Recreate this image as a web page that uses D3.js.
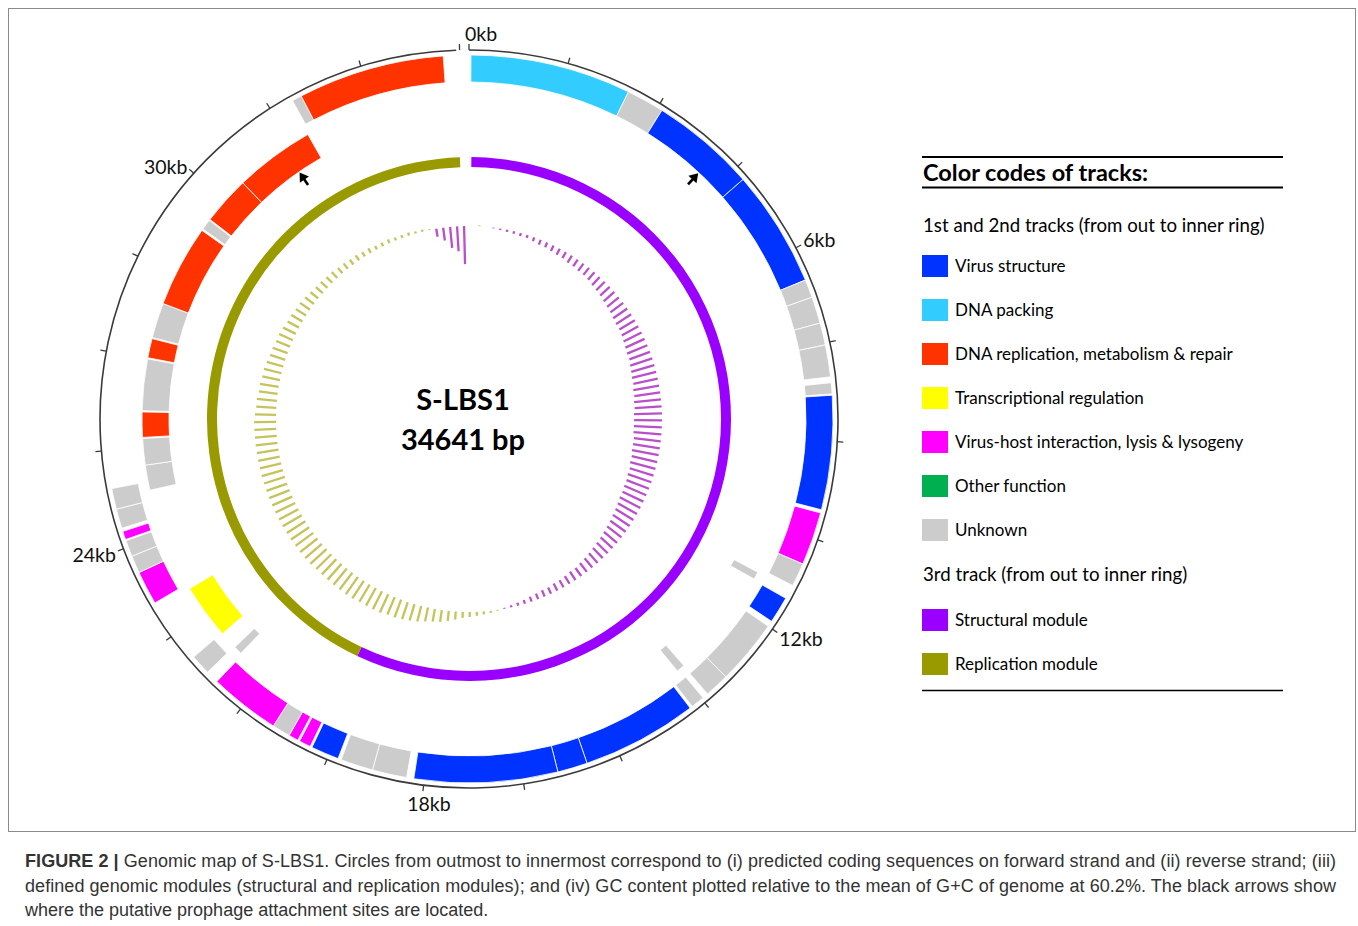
<!DOCTYPE html>
<html>
<head>
<meta charset="utf-8">
<script src="https://cdn.jsdelivr.net/npm/d3@7"></script>
<style>
body { margin: 0; background: #fff; }
text { font-family: Lato, "Open Sans", sans-serif; }
</style>
</head>
<body>
<svg id="chart" width="1358" height="926"></svg>
<script>
var genomeLength = 34641;

// gene categories and their colours
var catKeys = ['VS', 'PK', 'RP', 'TR', 'VH', 'OF', 'UN'];
var catNames = ['Virus structure', 'DNA packing', 'DNA replication, metabolism & repair',
    'Transcriptional regulation', 'Virus-host interaction, lysis & lysogeny', 'Other function', 'Unknown'];
var catColors = ['#0033ff', '#33ccff', '#ff3300', '#ffff00', '#ff00ff', '#00b050', '#cccccc'];

// 1st track: CDS on forward strand (kb)
var fwdStart = [0.03, 2.50, 3.08, 4.70, 6.50, 6.78, 7.19, 7.53, 8.11, 8.30, 10.10, 10.92, 11.50, 12.00, 13.00, 13.47,
    13.72, 15.50, 15.96, 18.27, 18.80, 19.35, 19.81, 20.02, 20.17, 20.45, 21.74, 23.06, 23.58, 23.85, 24.12, 24.30,
    24.60, 31.85, 32.00];
var fwdEnd = [2.50, 3.08, 4.70, 6.50, 6.78, 7.19, 7.53, 8.02, 8.28, 10.05, 10.92, 11.28, 11.91, 13.00, 13.38, 13.68,
    15.50, 15.96, 18.16, 18.80, 19.30, 19.78, 19.99, 20.17, 20.45, 21.54, 22.05, 23.58, 23.85, 24.10, 24.25, 24.60,
    24.92, 32.00, 34.25];
var fwdCat = ['PK', 'UN', 'VS', 'VS', 'UN', 'UN', 'UN', 'UN', 'UN', 'VS', 'VH', 'UN', 'VS', 'UN', 'UN', 'UN',
    'VS', 'VS', 'VS', 'UN', 'UN', 'VS', 'VH', 'VH', 'UN', 'VH', 'UN', 'VH', 'UN', 'UN', 'VH', 'UN',
    'UN', 'UN', 'RP'];

// 2nd track: CDS on reverse strand (kb)
var revStart = [11.35, 13.37, 21.58, 22.03, 24.77, 25.20, 25.67, 26.12, 27.02, 27.37, 27.97, 29.40, 29.60, 30.43];
var revEnd = [11.48, 13.51, 21.72, 22.97, 25.20, 25.65, 26.10, 27.00, 27.35, 27.97, 29.37, 29.58, 30.43, 31.80];
var revCat = ['UN', 'UN', 'UN', 'TR', 'UN', 'UN', 'RP', 'UN', 'RP', 'UN', 'RP', 'UN', 'RP', 'RP'];

// 3rd track: genomic modules (kb)
var moduleNames = ['Structural module', 'Replication module'];
var moduleColors = ['#9900ff', '#999900'];
var moduleStart = [0.05, 19.75];
var moduleEnd = [19.75, 34.45];

// 4th track: GC content minus genome mean (60.2 %), 200 bp windows
var gcWindow = 200;
var gcDeviation = [
    0, 0.3, 0, -0.3, -0.5, -0.7, -0.8, -1.0, -1.0, -1.3,
    -1.7, -1.7, -2.0, -2.3, -2.3, -2.7, -2.7, -3.0, -3.0, -3.3,
    -3.7, -4.0, -4.3, -4.7, -5.0, -5.3, -5.7, -6.0, -6.0, -6.3,
    -6.7, -7.0, -7.3, -7.3, -7.7, -8.0, -8.3, -8.3, -8.7, -8.7,
    -9.0, -9.0, -9.3, -9.3, -9.3, -9.3, -9.0, -9.0, -9.0, -8.7,
    -8.7, -8.3, -8.3, -8.0, -8.0, -7.7, -7.7, -7.3, -7.0, -6.7,
    -6.3, -6.0, -5.7, -5.3, -5.0, -4.7, -4.3, -4.0, -3.7, -3.3,
    -3.3, -3.0, -2.7, -2.7, -2.3, -2.3, -2.0, -1.7, -1.3, -1.0,
    -0.7, -0.3, 0.3, 0.7, 1.0, 1.3, 1.7, 2.0, 2.7, 3.3,
    4.0, 4.3, 4.7, 5.3, 5.7, 6.0, 6.3, 6.3, 6.7, 6.7,
    6.7, 6.7, 7.0, 7.0, 7.0, 7.0, 7.0, 7.0, 7.0, 7.3,
    7.3, 7.3, 7.3, 7.3, 7.3, 7.3, 7.3, 7.3, 7.3, 7.3,
    7.3, 7.3, 7.3, 7.3, 7.3, 7.3, 7.3, 7.3, 7.3, 7.3,
    7.0, 6.7, 6.7, 6.3, 6.3, 6.0, 6.0, 5.7, 5.3, 5.3,
    5.0, 5.0, 4.7, 4.3, 4.3, 4.0, 4.0, 3.7, 3.3, 3.0,
    3.0, 2.7, 2.7, 2.3, 2.3, 2.0, 2.0, 1.7, 1.7, 1.3,
    1.3, 1.3, 1.0, 1.0, 1.0, 0.7, 0.7, 0.3, -2.7, -4.3,
    -7.0, -8.3, -12.7, 0];

// scale ticks and labels (kb)
var tickStep = 1.5;
var tickLabelKb = [0, 6, 12, 18, 24, 30];

// putative prophage attachment sites (kb) and the track they point at
var attSiteKb = [4.14, 31.32];
var attSiteTrack = [1, 2];

var cx = 469, cy = 419, R = 369;
var track1 = [337, 364], track2 = [300, 327], track3 = [252, 262];
var gcBase = 193;

var svg = d3.select('#chart');

// figure frame
svg.append('rect')
    .attr('x', 8.5).attr('y', 8.5)
    .attr('width', 1347).attr('height', 823)
    .attr('fill', 'none')
    .attr('stroke', '#8a8a8a')
    .attr('stroke-width', 1);

var g = svg.append('g').attr('transform', 'translate(' + cx + ',' + cy + ')');

var angle = d3.scaleLinear().domain([0, genomeLength / 1000]).range([0, 2 * Math.PI]);
var color = d3.scaleOrdinal().domain(catKeys).range(catColors);
var gcScale = d3.scaleLinear().domain([-10, 10]).range([gcBase - 30, gcBase + 30]);

// outer scale circle
var ring = d3.path();
ring.arc(0, 0, R, -Math.PI / 2, -Math.PI / 2 + angle(34.45));
g.append('path')
    .attr('d', ring.toString())
    .attr('fill', 'none')
    .attr('stroke', '#3a3a3a')
    .attr('stroke-width', 1.6);

var ticks = d3.range(0, genomeLength / 1000, tickStep);
g.selectAll('.tick')
    .data(ticks)
    .enter()
    .append('line')
    .attr('class', 'tick')
    .attr('x1', function(d) { return d3.pointRadial(angle(d), R)[0]; })
    .attr('y1', function(d) { return d3.pointRadial(angle(d), R)[1]; })
    .attr('x2', function(d) { return d3.pointRadial(angle(d), R + 6)[0]; })
    .attr('y2', function(d) { return d3.pointRadial(angle(d), R + 6)[1]; })
    .attr('stroke', '#3a3a3a')
    .attr('stroke-width', 1.3);

// labels sit beside the tick end: left of it on the left half, right of it on the right half
g.selectAll('.ticklabel')
    .data(tickLabelKb)
    .enter()
    .append('text')
    .attr('class', 'ticklabel')
    .each(function(d) {
        var a = angle(d);
        var p = d3.pointRadial(a, R + 6);
        var s = Math.sin(a), c = Math.cos(a);
        var anchor = Math.abs(s) < 0.2 && c < 0 ? 'middle' : (s >= -0.05 ? 'start' : 'end');
        var dx = anchor === 'start' ? (s < 0.05 ? -4 : 2) : (anchor === 'end' ? -2 : 6);
        var dy = anchor === 'middle' ? 12 : -11 * c + (s < -0.5 && c > 0 ? 5 : 0);
        d3.select(this)
            .attr('x', p[0] + dx)
            .attr('y', p[1] + dy)
            .attr('text-anchor', anchor);
    })
    .attr('dominant-baseline', 'central')
    .attr('font-size', 19.5)
    .attr('fill', '#111')
    .text(function(d) { return d + 'kb'; });

// gene tracks
function genes(starts, ends, cats) {
    return starts.map(function(s, i) { return {start: s, end: ends[i], cat: cats[i]}; });
}

function drawGenes(data, radii, cls) {
    var arc = d3.arc().innerRadius(radii[0]).outerRadius(radii[1])
        .startAngle(function(d) { return angle(d.start); })
        .endAngle(function(d) { return angle(d.end); });
    g.selectAll('.' + cls)
        .data(data)
        .enter()
        .append('path')
        .attr('class', cls)
        .attr('d', arc)
        .attr('fill', function(d) { return color(d.cat); })
        .attr('stroke', '#fff')
        .attr('stroke-width', 0.8);
}

drawGenes(genes(fwdStart, fwdEnd, fwdCat), track1, 'fwd');
drawGenes(genes(revStart, revEnd, revCat), track2, 'rev');

// modules
var moduleArc = d3.arc().innerRadius(track3[0]).outerRadius(track3[1])
    .startAngle(function(d, i) { return angle(moduleStart[i]); })
    .endAngle(function(d, i) { return angle(moduleEnd[i]); });
g.selectAll('.module')
    .data(moduleNames)
    .enter()
    .append('path')
    .attr('class', 'module')
    .attr('d', moduleArc)
    .attr('fill', function(d, i) { return moduleColors[i]; });

// GC content, one radial stroke per window
g.selectAll('.gc')
    .data(gcDeviation)
    .enter()
    .append('line')
    .attr('class', 'gc')
    .each(function(v, i) {
        var a = angle((i + 0.5) * gcWindow / 1000);
        var p0 = d3.pointRadial(a, gcScale(0));
        var p1 = d3.pointRadial(a, gcScale(v));
        d3.select(this)
            .attr('x1', p0[0]).attr('y1', p0[1])
            .attr('x2', p1[0]).attr('y2', p1[1])
            .attr('stroke', v < 0 ? '#b94fcb' : '#c6c35a')
            .attr('stroke-width', v === 0 ? 0 : 2.3);
    });

// attachment site arrows
g.selectAll('.att')
    .data(attSiteKb)
    .enter()
    .append('g')
    .attr('class', 'att')
    .attr('transform', function(d) { return 'rotate(' + (angle(d) * 180 / Math.PI) + ')'; })
    .each(function(d, i) {
        var tip = (attSiteTrack[i] === 1 ? track1[0] : track2[0]) - 1;
        var el = d3.select(this);
        el.append('line')
            .attr('x1', 0).attr('y1', -tip + 6)
            .attr('x2', 0).attr('y2', -tip + 15)
            .attr('stroke', '#000')
            .attr('stroke-width', 2.6);
        el.append('path')
            .attr('d', 'M0,' + (-tip) + 'L-5.5,' + (-tip + 8.5) + 'L5.5,' + (-tip + 8.5) + 'Z')
            .attr('fill', '#000');
    });

// centre title
svg.append('text')
    .attr('x', 463).attr('y', 410)
    .attr('text-anchor', 'middle')
    .attr('font-size', 29).attr('font-weight', 'bold')
    .text('S-LBS1');
svg.append('text')
    .attr('x', 463).attr('y', 450)
    .attr('text-anchor', 'middle')
    .attr('font-size', 29).attr('font-weight', 'bold')
    .text('34641 bp');

// legend
var lx = 922, lw = 361;
var legend = svg.append('g');
[157, 187.5].forEach(function(y) {
    legend.append('line').attr('x1', lx).attr('x2', lx + lw).attr('y1', y).attr('y2', y)
        .attr('stroke', '#000').attr('stroke-width', 2);
});
legend.append('line').attr('x1', lx).attr('x2', lx + lw).attr('y1', 690.5).attr('y2', 690.5)
    .attr('stroke', '#000').attr('stroke-width', 1.6);
legend.append('text').attr('x', lx + 1).attr('y', 181)
    .attr('font-size', 23.5).attr('font-weight', 'bold')
    .text('Color codes of tracks:');
legend.append('text').attr('x', lx + 1).attr('y', 232)
    .attr('font-size', 18.7)
    .text('1st and 2nd tracks (from out to inner ring)');
legend.append('text').attr('x', lx + 1).attr('y', 581)
    .attr('font-size', 18.7)
    .text('3rd track (from out to inner ring)');

var items = catNames.map(function(n, i) { return {name: n, color: catColors[i], y: 266 + i * 44}; })
    .concat(moduleNames.map(function(n, i) { return {name: n, color: moduleColors[i], y: 620 + i * 44}; }));
var item = legend.selectAll('.item')
    .data(items)
    .enter()
    .append('g')
    .attr('class', 'item')
    .attr('transform', function(d) { return 'translate(' + lx + ',' + d.y + ')'; });
item.append('rect')
    .attr('x', 0).attr('y', -11)
    .attr('width', 26).attr('height', 22)
    .attr('fill', function(d) { return d.color; });
item.append('text')
    .attr('x', 33).attr('y', 6)
    .attr('font-size', 17)
    .text(function(d) { return d.name; });

// caption
var captionLines = [
    ['FIGURE 2 | ', 'Genomic map of S-LBS1. Circles from outmost to innermost correspond to (i) predicted coding sequences on forward strand and (ii) reverse strand; (iii)'],
    ['', 'defined genomic modules (structural and replication modules); and (iv) GC content plotted relative to the mean of G+C of genome at 60.2%. The black arrows show'],
    ['', 'where the putative prophage attachment sites are located.']
];
var cap = svg.append('g').attr('font-size', 18).attr('fill', '#333');
captionLines.forEach(function(line, i) {
    var t = cap.append('text')
        .attr('x', 25).attr('y', 867 + i * 24.5)
        .style('font-family', '"Liberation Sans", Arial, sans-serif');
    if (line[0]) t.append('tspan').attr('font-weight', 'bold').text(line[0]);
    t.append('tspan').text(line[1]);
    if (i < 2) t.attr('textLength', 1311).attr('lengthAdjust', 'spacing');
});
</script>
</body>
</html>
